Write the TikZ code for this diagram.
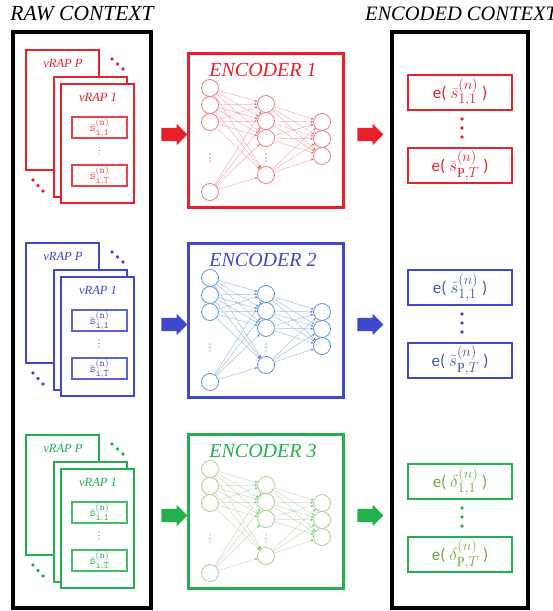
\documentclass[tikz,border=0pt]{standalone}
\usepackage{fontspec}
\setmainfont{Liberation Serif}
\newfontfamily\sansf{Carlito}
\DeclareMathSizes{17}{19}{14}{10}
\DeclareMathSizes{11}{12}{10}{8}
\usetikzlibrary{shapes.arrows,arrows.meta}
\definecolor{redm}{HTML}{E8202A}
\definecolor{redn}{HTML}{F27C7C}
\definecolor{rede}{HTML}{F7B0B0}
\definecolor{redt}{HTML}{E8202A}
\definecolor{redi}{HTML}{EE5050}
\definecolor{bluem}{HTML}{3F48CC}
\definecolor{bluen}{HTML}{5B9BD5}
\definecolor{bluee}{HTML}{9DC3E6}
\definecolor{bluet}{HTML}{3E5C9A}
\definecolor{bluei}{HTML}{4A55C8}
\definecolor{greenm}{HTML}{22B14C}
\definecolor{greenn}{HTML}{A9D18E}
\definecolor{greene}{HTML}{C5E0B4}
\definecolor{greent}{HTML}{70AD47}
\definecolor{greeni}{HTML}{2DB550}
\begin{document}
\begin{tikzpicture}[x=1pt,y=-1pt,
  title/.style={font=\fontsize{20.5}{22}\selectfont\itshape, inner sep=0pt},
  bigframe/.style={draw=black, line width=4pt, fill=white, inner sep=0pt},
  rapbox/.style={draw=gc, line width=2.4pt, fill=white, minimum width=73pt, minimum height=120pt, inner sep=0pt},
  raplabel/.style={text=gc, font=\fontsize{12.5}{13}\selectfont\itshape, inner sep=0pt},
  sbox/.style={draw=gc!85, line width=1.1pt, minimum width=55pt, minimum height=21pt, inner sep=0pt, text=gi, font=\fontsize{11}{11}\selectfont},
  dotc/.style={circle, fill=#1, inner sep=0pt, minimum size=3.6pt},
  sdot/.style={circle, fill=#1, inner sep=0pt, minimum size=1.4pt},
  blockarrow/.style={single arrow, fill=gc, draw=none, minimum height=26pt, inner sep=6.5pt, single arrow head extend=4pt, single arrow tip angle=90},
  encframe/.style={draw=gc, line width=3pt, minimum width=155pt, minimum height=154pt, inner sep=0pt},
  enctitle/.style={text=gc, font=\fontsize{20}{22}\selectfont\itshape, inner sep=0pt},
  neuron/.style={circle, draw=gn, line width=0.8pt, minimum size=17pt, inner sep=0pt, fill=white},
  edge/.style={draw=ge, line width=0.5pt, -{Stealth[length=2.6pt,width=2.2pt,color=gc!80]}},
  ebox/.style={draw=gc, line width=1.8pt, minimum width=104pt, minimum height=35pt, inner sep=0pt, text=gt, font=\fontsize{17}{17}\selectfont\sansf}
]
\useasboundingbox (0,0) rectangle (553,611);
\node[title, font=\fontsize{21.5}{22}\selectfont\itshape] (rawt) at (82,14) {RAW CONTEXT};
\node[title] (enct) at (461,14) {ENCODED CONTEXT};
\node[bigframe, minimum width=138pt, minimum height=576pt] (rawbox) at (82,320) {};
\node[bigframe, minimum width=136pt, minimum height=576pt] (encbox) at (460,320) {};

\foreach \g/\dr/\de/\dc/\cm/\cn/\ce/\ct/\ci/\sym in {
  1/0/0/0/redm/redn/rede/redt/redi/{\bar{s}},
  2/193/190/195/bluem/bluen/bluee/bluet/bluei/{\tilde{s}},
  3/385/381/389/greenm/greenn/greene/greent/greeni/{\delta}}{
  \colorlet{gc}{\cm}\colorlet{gn}{\cn}\colorlet{ge}{\ce}\colorlet{gt}{\ct}\colorlet{gi}{\ci}
  % raw stack
  \begin{scope}[shift={(0,\dr)}]
    \node[rapbox] (vp\g) at (62.5,110) {};
    \node[raplabel] (vpl\g) at (63,63) {vRAP P};
    \node[dotc=gc] (du1\g) at (112,59) {};
    \node[dotc=gc] (du2\g) at (117.5,64) {};
    \node[dotc=gc] (du3\g) at (123,69) {};
    \node[dotc=gc] (dl1\g) at (33,180) {};
    \node[dotc=gc] (dl2\g) at (38,185.5) {};
    \node[dotc=gc] (dl3\g) at (43,191) {};
    \node[rapbox] (vm\g) at (90.5,137) {};
    \node[rapbox, minimum height=119pt] (vf\g) at (97.5,143.5) {};
    \node[raplabel] (vfl\g) at (98,97) {vRAP 1};
    \node[sbox] (sa\g) at (99.5,127.5) {$\bar{\mathtt{s}}^{(\mathtt{n})}_{\mathtt{i,1}}$};
    \node[sbox] (sb\g) at (99.5,175.5) {$\bar{\mathtt{s}}^{(\mathtt{n})}_{\mathtt{i,T}}$};
    \node[sdot=gi] (sv1\g) at (99,147) {};
    \node[sdot=gi] (sv2\g) at (99,150.5) {};
    \node[sdot=gi] (sv3\g) at (99,154) {};
  \end{scope}
  % encoder
  \begin{scope}[shift={(0,\de)}]
    \node[blockarrow] (al\g) at (171,134.5) {};
    \node[encframe] (enc\g) at (265.5,130) {};
    \node[enctitle] (enct\g) at (263,70) {ENCODER \g};
    \node[neuron] (a1\g) at (210,88) {};
    \node[neuron] (a2\g) at (210,105) {};
    \node[neuron] (a3\g) at (210,122) {};
    \node[neuron] (a4\g) at (210,192) {};
    \node[neuron] (b1\g) at (266,104) {};
    \node[neuron] (b2\g) at (266,121) {};
    \node[neuron] (b3\g) at (266,138) {};
    \node[neuron] (b4\g) at (266,175) {};
    \node[neuron] (c1\g) at (322,122) {};
    \node[neuron] (c2\g) at (322,139) {};
    \node[neuron] (c3\g) at (322,156) {};
    \foreach \i in {1,...,4}{\foreach \j in {1,...,4}{\draw[edge] (a\i\g) -- (b\j\g);}}
    \foreach \i in {1,...,4}{\foreach \j in {1,...,3}{\draw[edge] (b\i\g) -- (c\j\g);}}
    \node[sdot=gc] (na1\g) at (210,154) {};
    \node[sdot=gc] (na2\g) at (210,157.5) {};
    \node[sdot=gc] (na3\g) at (210,161) {};
    \node[sdot=gc] (nb1\g) at (266,154) {};
    \node[sdot=gc] (nb2\g) at (266,157.5) {};
    \node[sdot=gc] (nb3\g) at (266,161) {};
    \node[blockarrow] (ar\g) at (367,134.5) {};
  \end{scope}
  % encoded
  \begin{scope}[shift={(0,\dc)}]
    \node[ebox] (ea\g) at (460,92.5) {e( $\sym^{(n)}_{1,1}$ )};
    \node[ebox] (eb\g) at (460,165.5) {e( $\sym^{(n)}_{\mathrm{P},T}$ )};
    \node[dotc=gc] (ev1\g) at (462,119) {};
    \node[dotc=gc] (ev2\g) at (462,128) {};
    \node[dotc=gc] (ev3\g) at (462,137) {};
  \end{scope}
}
\end{tikzpicture}
\end{document}
